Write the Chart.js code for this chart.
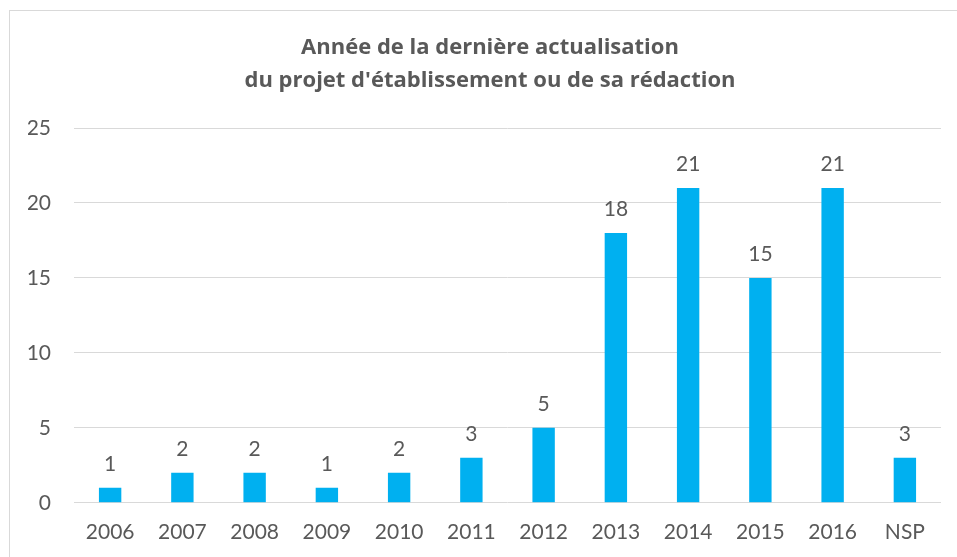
<!DOCTYPE html>
<html>
<head>
<meta charset="utf-8">
<script src="https://cdn.jsdelivr.net/npm/chart.js@4/dist/chart.umd.min.js"></script>
<style>
  html, body { margin: 0; padding: 0; background: #fff; overflow: hidden; }
  #box {
    position: absolute; left: 9px; top: 10px;
    width: 960px; height: 560px;
    border: 1px solid #d9d9d9;
  }
</style>
</head>
<body>
<div id="box"><canvas id="chart"></canvas></div>
<script>
const years = ['2006', '2007', '2008', '2009', '2010', '2011', '2012', '2013', '2014', '2015', '2016', 'NSP'];
const counts = [1, 2, 2, 1, 2, 3, 5, 18, 21, 15, 21, 3];
const titleLines = ['Année de la dernière actualisation', "du projet d'établissement ou de sa rédaction"];

const grey = '#595959';
const fontName = 'Lato, "Open Sans", sans-serif';

// valeurs au-dessus des barres
const barValues = {
    id: 'barValues',
    afterDatasetsDraw(chart) {
        const ctx = chart.ctx;
        const meta = chart.getDatasetMeta(0);
        ctx.save();
        ctx.font = '21px ' + fontName;
        ctx.fillStyle = grey;
        ctx.textAlign = 'center';
        ctx.textBaseline = 'alphabetic';
        meta.data.forEach((bar, i) => {
            ctx.fillText(String(counts[i]), bar.x, bar.y - 17);
        });
        ctx.restore();
    }
};

// titre centré sur toute la largeur du cadre
const titleFullWidth = {
    id: 'titleFullWidth',
    afterLayout(chart) {
        const t = chart.titleBlock;
        if (t) { t.left = 0; t.right = chart.width; t.width = chart.width; }
    }
};

const ctx = document.getElementById('chart');

new Chart(ctx, {
    type: 'bar',
    data: {
        labels: years,
        datasets: [{
            data: counts,
            backgroundColor: '#00b0f0',
            borderWidth: 0,
            barPercentage: 0.31,
            categoryPercentage: 1
        }]
    },
    options: {
        responsive: true,
        maintainAspectRatio: false,
        animation: false,
        layout: { padding: { left: 18, right: 29, top: 0, bottom: 17 } },
        plugins: {
            legend: { display: false },
            tooltip: { enabled: false },
            title: {
                display: true,
                text: titleLines,
                color: grey,
                font: { family: '"Open Sans", sans-serif', size: 22, weight: 'bold', lineHeight: 1.5 },
                padding: { top: 20, bottom: 31 }
            }
        },
        scales: {
            x: {
                grid: { display: false },
                border: { display: false },
                ticks: { color: grey, font: { family: fontName, size: 21 }, padding: 9, maxRotation: 0 }
            },
            y: {
                min: 0,
                max: 25,
                afterFit: (scale) => { scale.width = 46; },
                grid: { color: '#d9d9d9', lineWidth: 1, drawTicks: false },
                border: { display: false },
                ticks: { stepSize: 5, color: grey, font: { family: fontName, size: 21 }, padding: 23 }
            }
        }
    },
    plugins: [barValues, titleFullWidth]
});
</script>
</body>
</html>
